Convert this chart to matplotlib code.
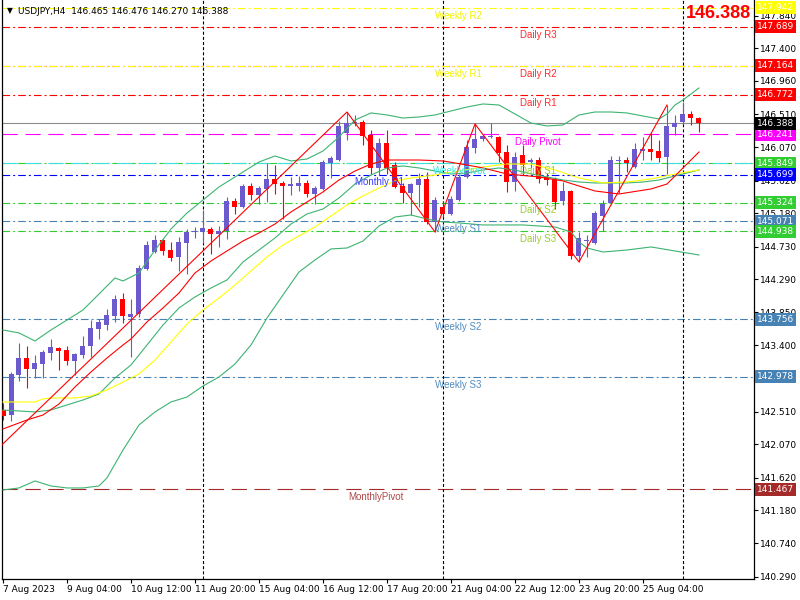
import matplotlib
matplotlib.use("Agg")
import matplotlib.pyplot as plt
import matplotlib.transforms as mtransforms

plt.rcParams["font.family"] = ["DejaVu Sans"]
plt.rcParams["font.size"] = 6.5
plt.rcParams["lines.scale_dashes"] = False

# USDJPY H4 bars, first bar 7 Aug 2023 20:00
opens = [142.532, 142.465, 143.003, 143.232, 143.084, 143.151, 143.299, 143.367, 143.340, 143.192,
         143.272, 143.394, 143.622, 143.676, 143.797, 144.026, 143.784, 143.824, 144.430, 144.658,
         144.820, 144.685, 144.591, 144.779, 144.921, 144.921, 144.968, 144.901, 144.941, 145.345,
         145.264, 145.546, 145.425, 145.506, 145.641, 145.587, 145.546, 145.546, 145.587, 145.439,
         145.506, 145.856, 145.896, 146.260, 146.394, 146.408, 146.233, 145.789, 146.125, 145.829,
         145.546, 145.452, 145.560, 145.641, 145.062, 145.264, 145.170, 145.358, 145.668, 146.058,
         146.179, 146.206, 146.206, 146.004, 145.600, 145.964, 145.869, 145.896, 145.668, 145.641,
         145.345, 145.479, 144.605, 144.806, 144.779, 145.143, 145.318, 145.883, 145.896, 145.802,
         146.017, 146.044, 146.017, 145.937, 146.340, 146.408, 146.515, 146.465]
highs = [142.627, 143.044, 143.434, 143.394, 143.272, 143.340, 143.488, 143.380, 143.394, 143.299,
         143.528, 143.743, 143.757, 143.891, 144.080, 144.107, 144.026, 144.483, 144.806, 144.887,
         144.833, 144.793, 144.860, 144.968, 144.995, 145.223, 144.995, 145.008, 145.398, 145.385,
         145.573, 145.587, 145.546, 145.856, 145.829, 145.614, 145.668, 145.681, 145.627, 145.546,
         145.896, 145.950, 146.421, 146.542, 146.502, 146.434, 146.300, 146.192, 146.300, 145.869,
         145.587, 145.587, 145.721, 145.735, 145.398, 145.345, 145.412, 145.708, 146.165, 146.381,
         146.246, 146.394, 146.219, 146.098, 146.004, 146.098, 145.923, 145.937, 145.721, 145.668,
         145.600, 145.493, 144.927, 144.887, 145.210, 145.358, 145.950, 145.950, 145.937, 146.125,
         146.206, 146.260, 146.165, 146.636, 146.502, 146.677, 146.556, 146.476]
lows = [142.398, 142.384, 142.923, 142.829, 142.963, 142.963, 143.205, 143.071, 143.138, 143.003,
        143.232, 143.246, 143.488, 143.609, 143.717, 143.703, 143.246, 143.784, 144.416, 144.645,
        144.618, 144.537, 144.403, 144.362, 144.847, 144.779, 144.631, 144.726, 144.833, 145.170,
        145.250, 145.358, 145.304, 145.331, 145.439, 145.102, 145.425, 145.479, 145.398, 145.304,
        145.493, 145.654, 145.883, 146.165, 146.354, 146.098, 145.708, 145.694, 145.708, 145.520,
        145.318, 145.156, 145.264, 145.035, 144.927, 145.129, 145.156, 145.345, 145.654, 145.990,
        146.152, 146.186, 145.869, 145.466, 145.479, 145.694, 145.789, 145.587, 145.560, 145.237,
        145.291, 144.564, 144.524, 144.591, 144.766, 144.941, 145.304, 145.452, 145.735, 145.789,
        145.896, 145.896, 145.869, 145.708, 146.233, 146.381, 146.367, 146.270]
closes = [142.452, 143.017, 143.232, 143.084, 143.165, 143.313, 143.380, 143.326, 143.192, 143.286,
          143.394, 143.636, 143.717, 143.811, 144.026, 143.797, 143.824, 144.443, 144.753, 144.820,
          144.672, 144.578, 144.793, 144.927, 144.934, 144.981, 144.901, 144.941, 145.345, 145.264,
          145.546, 145.425, 145.520, 145.641, 145.573, 145.546, 145.573, 145.580, 145.439, 145.520,
          145.869, 145.923, 146.354, 146.394, 146.408, 146.219, 145.789, 146.125, 145.789, 145.533,
          145.452, 145.573, 145.641, 145.062, 145.358, 145.170, 145.372, 145.668, 146.071, 146.179,
          146.219, 146.212, 145.990, 145.600, 145.937, 145.829, 145.896, 145.641, 145.627, 145.331,
          145.479, 144.605, 144.847, 144.820, 145.183, 145.304, 145.896, 145.896, 145.856, 146.044,
          146.044, 146.004, 145.923, 146.354, 146.394, 146.515, 146.461, 146.388]

# indicator lines at the listed bars
bb_up_bars = [0, 2, 4, 6, 8, 10, 12, 14, 15, 17, 19, 21, 23, 25, 27, 29, 32, 34, 36, 38, 40, 42, 44,
              46, 48, 50, 52, 54, 56, 58, 60, 62, 64, 66, 68, 70, 72, 74, 76, 78, 80, 82, 83, 84, 85, 87]
bb_up = [143.609, 143.569, 143.461, 143.609, 143.743, 143.878, 144.093, 144.309, 144.268, 144.376,
         144.685, 144.968, 145.183, 145.358, 145.533, 145.668, 145.869, 145.950, 145.883, 145.910,
         146.017, 146.206, 146.434, 146.529, 146.502, 146.461, 146.475, 146.502, 146.556, 146.609,
         146.650, 146.636, 146.515, 146.394, 146.354, 146.367, 146.502, 146.542, 146.542, 146.529,
         146.488, 146.448, 146.515, 146.636, 146.704, 146.865]
bb_mid_bars = [0, 4, 6, 8, 10, 12, 14, 16, 18, 20, 22, 24, 26, 28, 30, 32, 34, 36, 38, 40, 42, 44,
               46, 48, 50, 52, 54, 56, 58, 60, 62, 64, 66, 68, 70, 72, 74, 76, 78, 80, 82, 84, 86, 87]
bb_mid = [142.532, 142.506, 142.532, 142.600, 142.667, 142.748, 142.963, 143.138, 143.407, 143.676,
          143.905, 144.053, 144.174, 144.282, 144.524, 144.685, 144.847, 145.035, 145.170, 145.237,
          145.385, 145.573, 145.694, 145.789, 145.816, 145.789, 145.748, 145.708, 145.721, 145.762,
          145.789, 145.762, 145.708, 145.668, 145.627, 145.600, 145.587, 145.587, 145.587, 145.600,
          145.627, 145.681, 145.735, 145.762]
bb_low_bars = [0, 2, 4, 6, 8, 10, 12, 13, 15, 17, 19, 21, 23, 25, 27, 29, 31, 33, 35, 37, 39, 41,
               43, 45, 47, 49, 51, 53, 55, 57, 60, 63, 65, 67, 69, 71, 72, 73, 75, 78, 81, 84, 87]
bb_low = [141.456, 141.483, 141.577, 141.510, 141.483, 141.483, 141.510, 141.618, 141.994, 142.331,
          142.506, 142.640, 142.707, 142.855, 142.977, 143.151, 143.407, 143.770, 144.080, 144.389,
          144.551, 144.699, 144.712, 144.806, 145.008, 145.129, 145.156, 145.102, 145.062, 145.049,
          145.022, 145.022, 145.022, 145.008, 144.995, 144.927, 144.793, 144.712, 144.658, 144.685,
          144.726, 144.672, 144.618]
ma_fast_bars = [0, 3, 5, 7, 9, 11, 13, 15, 16, 18, 20, 22, 24, 26, 28, 30, 32, 34, 36, 38, 40, 42,
                44, 46, 48, 52, 55, 58, 60, 63, 67, 70, 72, 74, 77, 81, 83, 85, 87]
ma_fast = [142.277, 142.398, 142.465, 142.613, 142.842, 143.044, 143.232, 143.407, 143.488, 143.717,
           143.905, 144.107, 144.376, 144.537, 144.672, 144.806, 144.914, 145.035, 145.197, 145.331,
           145.466, 145.627, 145.748, 145.842, 145.896, 145.896, 145.883, 145.829, 145.789, 145.708,
           145.668, 145.614, 145.546, 145.479, 145.439, 145.506, 145.573, 145.789, 146.004]
ma_slow_bars = [0, 4, 5, 6, 9, 11, 13, 15, 17, 19, 21, 23, 25, 27, 29, 31, 33, 35, 37, 39, 41, 43,
                45, 47, 49, 51, 54, 57, 60, 63, 66, 69, 72, 75, 78, 81, 84, 87]
ma_slow = [142.640, 142.640, 142.681, 142.694, 142.694, 142.721, 142.802, 142.909, 143.017, 143.205,
           143.447, 143.690, 143.878, 144.039, 144.214, 144.403, 144.591, 144.753, 144.874, 144.995,
           145.143, 145.291, 145.412, 145.520, 145.614, 145.654, 145.694, 145.748, 145.802, 145.842,
           145.842, 145.762, 145.654, 145.587, 145.600, 145.641, 145.708, 145.762]
zz_bars = [-3, 43, 54, 59, 72, 83]
zz_prices = [141.766, 146.542, 144.927, 146.381, 144.524, 146.636]

# pivot levels
level_names = ["Weekly R2", "Daily R3", "Daily R2", "Weekly R1", "Daily R1", "Daily Pivot",
               "Daily S1", "WeeklyPivot", "Monthly R1", "Daily S2", "Weekly S1", "Daily S3",
               "Weekly S2", "Weekly S3", "MonthlyPivot"]
level_prices = [147.942, 147.689, 147.164, 147.164, 146.772, 146.241, 145.849, 145.849, 145.699,
                145.324, 145.071, 144.938, 143.756, 142.978, 141.467]
bid = 146.388

# 142.960 sits fully under the 142.978 price box, so it is left out
price_ticks = [147.840, 147.400, 146.960, 146.510, 146.070, 145.620, 145.180, 144.730, 144.290,
               143.850, 143.400, 142.510, 142.070, 141.620, 141.180, 140.740, 140.290]
time_labels = ["7 Aug 2023", "9 Aug 04:00", "10 Aug 12:00", "11 Aug 20:00", "15 Aug 04:00",
               "16 Aug 12:00", "17 Aug 20:00", "21 Aug 04:00", "22 Aug 12:00", "23 Aug 20:00",
               "25 Aug 04:00"]
week_start_bars = [25, 55, 85]

BULL = "#6A5ACD"
BEAR = "#FF0000"
DASHDOT = (0, (5.5, 2.2, 1.4, 2.2))
DASHED = (0, (11, 5.5))


def level_style(name):
    # line colour, label colour, line style, box colour, label x (bar)
    if name == "Daily Pivot":
        return "#FF00FF", "#FF00FF", DASHED, "#FF00FF", 64.0
    if name == "WeeklyPivot":
        return "#40E0E0", "#33E8E8", DASHED, "#00FFFF", 53.8
    if name == "MonthlyPivot":
        return "#A52A2A", "#B04848", DASHED, "#A52A2A", 43.2
    if name == "Monthly R1":
        return "#0000FF", "#3A3AFF", DASHDOT, "#0000FF", 44.0
    if name.startswith("Weekly R"):
        return "#FFFF00", "#F2F200", DASHDOT, "#FFFF00", 54.0
    if name.startswith("Weekly S"):
        return "#4682B4", "#4F8CC0", DASHDOT, "#4682B4", 54.0
    if name.startswith("Daily R"):
        return "#FF0000", "#FF2A2A", DASHDOT, "#FF0000", 64.6
    return "#32CD32", "#9ACD32", DASHDOT, "#32CD32", 64.6


fig = plt.figure(figsize=(8, 6), dpi=100)
ax = fig.add_axes([2 / 800, 21 / 600, 752 / 800, 579 / 600])
ax.set_xlim(-0.125, 93.875)
ax.set_ylim(140.258, 148.049)

# pivot lines and labels
for name, price in zip(level_names, level_prices):
    lc, tc, ls, bc, lx = level_style(name)
    ax.axhline(price, color=lc, linestyle=ls, linewidth=0.8, zorder=1)
    ax.annotate(name, (lx, price), xytext=(0, -2), textcoords="offset points",
                va="top", ha="left", color=tc, fontsize=7, family="Liberation Sans", zorder=5)

ax.axhline(bid, color="#8C8C8C", linewidth=0.8, zorder=1)

for b in week_start_bars:
    ax.axvline(b, color="black", linestyle=(0, (2.2, 1.5)), linewidth=0.8, zorder=1)

# candles
for i in range(len(opens)):
    o, h, l, c = opens[i], highs[i], lows[i], closes[i]
    col = BULL if c >= o else BEAR
    ax.vlines(i, l, h, color=col, linewidth=0.8, zorder=3)
    body = max(abs(c - o), 0.012)
    ax.bar(i, body, bottom=min(o, c), width=0.625, color=col, linewidth=0, zorder=3)

# indicators
band = "#3CB371"
ax.plot(bb_up_bars, bb_up, color=band, linewidth=0.8, zorder=4)
ax.plot(bb_mid_bars, bb_mid, color=band, linewidth=0.8, zorder=4)
ax.plot(bb_low_bars, bb_low, color=band, linewidth=0.8, zorder=4)
ax.plot(ma_slow_bars, ma_slow, color="#FFFF00", linewidth=0.8, zorder=4)
ax.plot(ma_fast_bars, ma_fast, color="#FF0000", linewidth=0.8, zorder=4)
ax.plot(zz_bars, zz_prices, color="#FF0000", linewidth=0.8, zorder=4)

# axes
ax.spines["top"].set_visible(False)
for s in ["left", "right", "bottom"]:
    ax.spines[s].set_linewidth(0.9)
ax.yaxis.tick_right()
ax.set_yticks(price_ticks)
ax.set_yticklabels([f"{p:.3f}" for p in price_ticks])
ax.set_xticks(list(range(0, 8 * len(time_labels), 8)))
ax.set_xticklabels(time_labels, ha="left")
ax.tick_params(axis="both", direction="out", length=3, width=0.8, pad=1.5, labelsize=6.5)

# price boxes on the right axis
trans = mtransforms.blended_transform_factory(ax.transAxes, ax.transData)
boxes = [(p, level_style(n)[3]) for n, p in zip(level_names, level_prices)]
boxes.append((bid, "black"))
seen = set()
for price, colour in boxes:
    if price in seen:
        continue
    seen.add(price)
    ax.text(1.0 + 3 / 752, price, f"{price:.3f}", transform=trans, va="center", ha="left",
            color="white", fontsize=6.5, clip_on=False, zorder=6,
            bbox=dict(boxstyle="square,pad=0.22", fc=colour, ec="none"))

# header
fig.text(7 / 800, 1 - 11 / 600, "▼", fontsize=5.5, va="center", ha="left", color="black")
fig.text(18 / 800, 1 - 11 / 600, "USDJPY,H4  146.465 146.476 146.270 146.388",
         fontsize=6.5, va="center", ha="left", color="black")
fig.text(751 / 800, 1 - 13 / 600, "146.388", fontsize=13, fontweight="bold", color="#FF0000",
         family="Liberation Sans", va="center", ha="right")

fig.savefig("out.png", dpi=100)
